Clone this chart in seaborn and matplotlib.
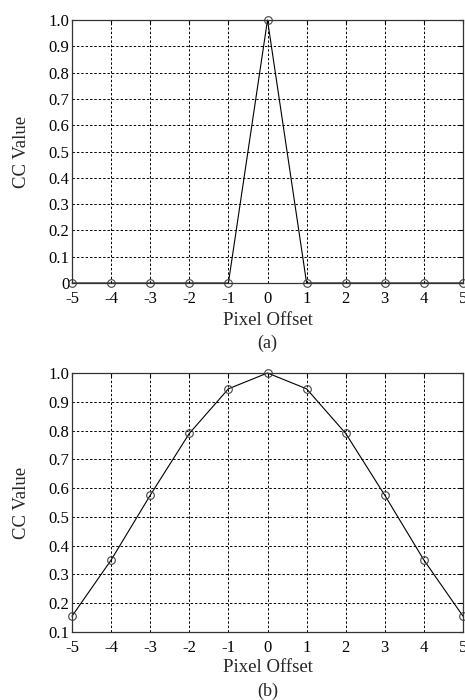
import matplotlib
matplotlib.use("Agg")
import matplotlib.pyplot as plt
import seaborn as sns
import numpy as np

# data
offsets = [-5, -4, -3, -2, -1, 0, 1, 2, 3, 4, 5]
cc_a = [0.0, 0.0, 0.0, 0.0, 0.0, 1.0, 0.0, 0.0, 0.0, 0.0, 0.0]
cc_b = [0.155, 0.35, 0.575, 0.79, 0.945, 1.0, 0.945, 0.79, 0.575, 0.35, 0.155]

yticks_a = [0, 0.1, 0.2, 0.3, 0.4, 0.5, 0.6, 0.7, 0.8, 0.9, 1.0]
ytick_labels_a = ["0", "0.1", "0.2", "0.3", "0.4", "0.5", "0.6", "0.7", "0.8", "0.9", "1.0"]
yticks_b = [0.1, 0.2, 0.3, 0.4, 0.5, 0.6, 0.7, 0.8, 0.9, 1.0]
ytick_labels_b = ["0.1", "0.2", "0.3", "0.4", "0.5", "0.6", "0.7", "0.8", "0.9", "1.0"]

sns.set_style("white")
plt.rcParams['font.family'] = ['Liberation Serif', 'DejaVu Serif']
plt.rcParams['font.size'] = 10

fig = plt.figure(figsize=(4.65, 7.0), dpi=100)
ax1 = fig.add_axes([72 / 465, 1 - 283 / 700, 391 / 465, 263 / 700])
ax2 = fig.add_axes([72 / 465, 1 - 632 / 700, 391 / 465, 259 / 700])


def draw_panel(ax, y, yticks, ylabels, ymin, tag, xlab_y):
    sns.lineplot(x=offsets, y=y, ax=ax, color="black", linewidth=0.8,
                 marker="o", markersize=5.5, markerfacecolor="none",
                 markeredgecolor="#444444", markeredgewidth=0.8, clip_on=False)
    ax.set_xlim(-5, 5)
    ax.set_ylim(ymin, 1.0)
    ax.set_xticks(offsets)
    ax.set_xticklabels([str(o) for o in offsets])
    ax.set_yticks(yticks)
    ax.set_yticklabels(ylabels)
    ax.grid(True, color="black", linestyle=(0, (2.5, 2)), linewidth=0.7)
    ax.tick_params(direction="in", length=3, labelsize=12, colors="black",
                   top=True, right=True)
    ax.tick_params(axis="x", pad=5.5)
    ax.tick_params(axis="y", pad=2)
    for s in ax.spines.values():
        s.set_visible(True)
        s.set_color("#333333")
        s.set_linewidth(0.9)
    ax.set_xlabel("Pixel Offset", fontsize=13.5)
    ax.set_ylabel("CC Value", fontsize=13.5)
    ax.xaxis.set_label_coords(0.5, xlab_y)
    ax.yaxis.set_label_coords(-0.107, 0.5)
    ax.text(0.5, -0.228, tag, transform=ax.transAxes, ha="center",
            va="center", fontsize=13)


draw_panel(ax1, cc_a, yticks_a, ytick_labels_a, 0.0, "(a)", -0.112)
draw_panel(ax2, cc_b, yticks_b, ytick_labels_b, 0.1, "(b)", -0.106)

fig.savefig("out.png", dpi=100)
